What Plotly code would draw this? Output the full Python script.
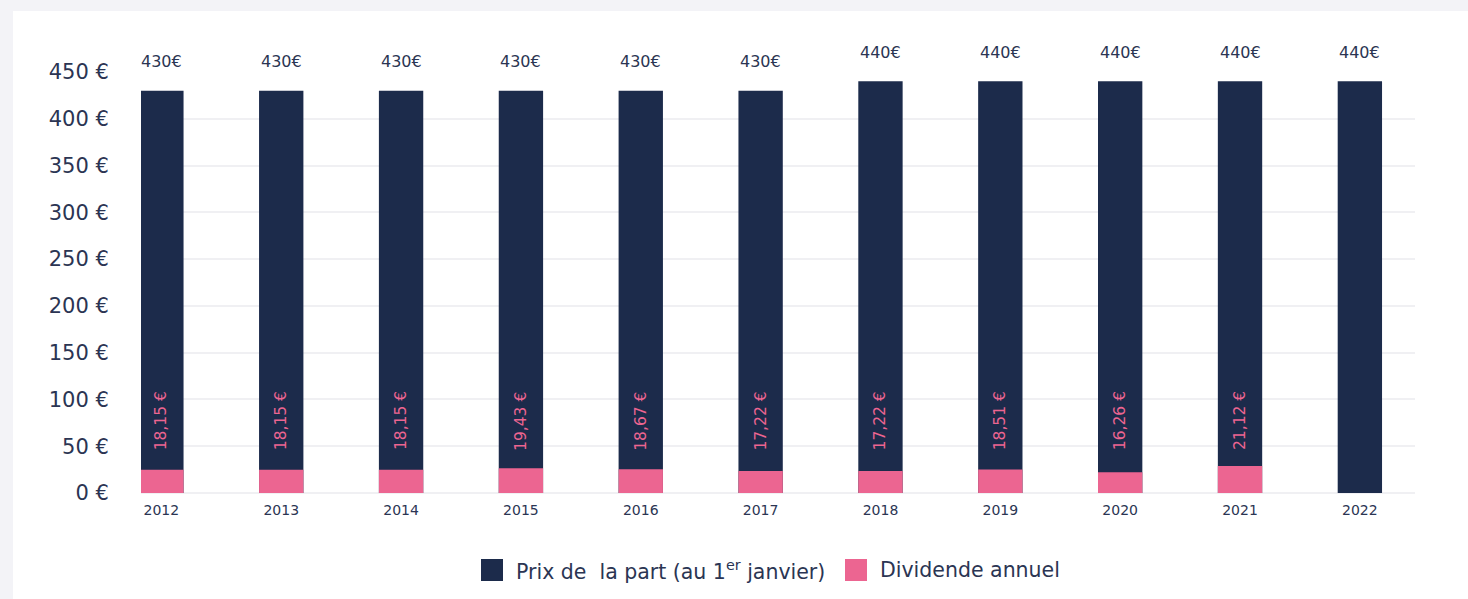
import plotly.graph_objects as go

years = ["2012", "2013", "2014", "2015", "2016", "2017", "2018", "2019", "2020", "2021", "2022"]
prix_part = [430, 430, 430, 430, 430, 430, 440, 440, 440, 440, 440]
dividende = [18.15, 18.15, 18.15, 19.43, 18.67, 17.22, 17.22, 18.51, 16.26, 21.12, None]
prix_labels = ["430€"] * 6 + ["440€"] * 5
div_labels = ["18,15 €", "18,15 €", "18,15 €", "19,43 €", "18,67 €", "17,22 €",
              "17,22 €", "18,51 €", "16,26 €", "21,12 €", ""]
y_ticks = [0, 50, 100, 150, 200, 250, 300, 350, 400, 450]
y_ticktext = [f"{v} €" for v in y_ticks]
series_names = ["Prix de  la part (au 1<sup>er</sup> janvier)", "Dividende annuel"]

NAVY = "#1c2b4b"
PINK = "#ec6591"
TEXT = "#2b3553"
FONT = "DejaVu Sans"

# pixel -> paper helpers (plot area: x 141..1415, y 72..493)
PL, PR, PT, PB = 141, 1415, 72, 493
def px(p):
    return (p - PL) / (PR - PL)
def py(p):
    return (PB - p) / (PB - PT)

fig = go.Figure()
fig.add_trace(go.Bar(
    x=years, y=prix_part, name=series_names[0], showlegend=False,
    marker=dict(color=NAVY, line=dict(width=0)), width=0.37, yaxis="y",
))
fig.add_trace(go.Bar(
    x=years, y=dividende, name=series_names[1], showlegend=False,
    marker=dict(color=PINK, line=dict(width=0)), width=0.37, yaxis="y2",
))

for i, (p, lab) in enumerate(zip(prix_part, prix_labels)):
    fig.add_annotation(x=i, y=p, xref="x", yref="y", text=lab, showarrow=False,
                       yanchor="middle", yshift=29,
                       font=dict(family=FONT, size=16, color=TEXT))
for i, lab in enumerate(div_labels):
    if lab:
        fig.add_annotation(x=i, y=0, xref="x", yref="y", text=lab, showarrow=False,
                           textangle=-90, yanchor="middle", yshift=72,
                           font=dict(family=FONT, size=15.5, color=PINK))

# custom legend (large square swatches)
legend_items = [(481, NAVY, series_names[0]), (845, PINK, series_names[1])]
shapes = [dict(type="rect", xref="paper", yref="paper", x0=px(13), x1=1.2,
               y0=-0.4, y1=py(11), fillcolor="white", line=dict(width=0), layer="below")]
for x0, col, name in legend_items:
    shapes.append(dict(type="rect", xref="paper", yref="paper", x0=px(x0), x1=px(x0 + 22),
                       y0=py(581), y1=py(559), fillcolor=col, line=dict(width=0)))
    fig.add_annotation(x=px(x0 + 33), y=py(570), xref="paper", yref="paper", text=name,
                       showarrow=False, xanchor="left", yanchor="middle",
                       font=dict(family=FONT, size=20.5, color=TEXT))

fig.update_layout(
    width=1468, height=599,
    margin=dict(l=PL, r=1468 - PR, t=PT, b=599 - PB),
    paper_bgcolor="#f3f3f7", plot_bgcolor="white",
    barmode="overlay",
    font=dict(family=FONT, color=TEXT),
    showlegend=False,
    xaxis=dict(type="category", range=[-0.17, 10.46], showgrid=False, showline=False,
               zeroline=False, ticks="outside", ticklen=4, tickcolor="rgba(0,0,0,0)",
               tickfont=dict(family=FONT, size=14, color=TEXT)),
    yaxis=dict(range=[0, 450], tickmode="array", tickvals=y_ticks, ticktext=y_ticktext,
               showgrid=True, gridcolor="#f0f0f3", gridwidth=2, zeroline=True,
               zerolinecolor="#f0f0f3", zerolinewidth=2, showline=False,
               ticks="outside", ticklen=27, tickcolor="rgba(0,0,0,0)",
               tickfont=dict(family=FONT, size=21, color=TEXT)),
    yaxis2=dict(range=[0, 330], overlaying="y", side="right", visible=False, showgrid=False),
    shapes=shapes,
)

fig.write_html("out.html", config={"displayModeBar": False},
               post_script="document.body.style.margin='0';document.body.style.background='#f3f3f7';")
